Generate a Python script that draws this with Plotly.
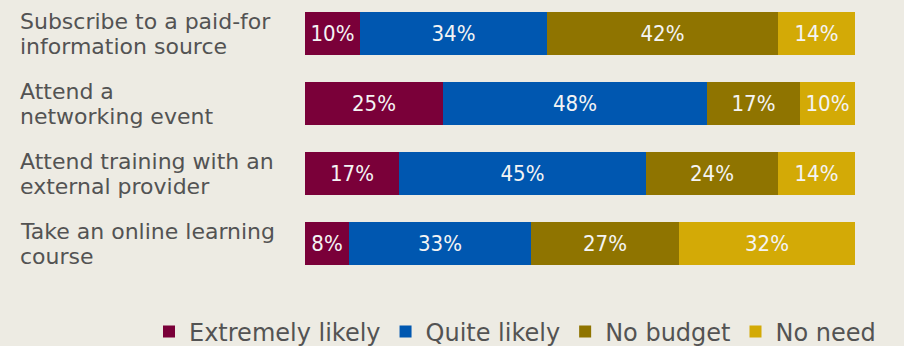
import plotly.graph_objects as go

categories = [["Subscribe to a paid-for", "information source"],
              ["Attend a", "networking event"],
              ["Attend training with an", "external provider"],
              ["Take an online learning", "course"]]
series_names = ["Extremely likely", "Quite likely", "No budget", "No need"]
extremely_likely = [10, 25, 17, 8]
quite_likely = [34, 48, 45, 33]
no_budget = [42, 17, 24, 27]
no_need = [14, 10, 14, 32]
colors = ["#7a0039", "#0057b0", "#8f7400", "#d3aa06"]

W, H = 915, 346
L, R = 305, 60
PH = 280
BG = "#edebe3"

fig = go.Figure()
for name, vals, col in zip(series_names,
                           [extremely_likely, quite_likely, no_budget, no_need],
                           colors):
    fig.add_trace(go.Bar(
        y=list(range(len(categories))), x=vals, name=name, orientation="h",
        marker=dict(color=col, line=dict(width=0)),
        text=[f"{v}%" for v in vals], textposition="inside",
        insidetextanchor="middle", textangle=0, constraintext="none",
        textfont=dict(family="DejaVu Sans Condensed", size=22, color="#f4f4f4"),
        width=0.62, hoverinfo="skip"))

pw = W - L - R
for i, lines in enumerate(categories):
    for j, line in enumerate(lines):
        fig.add_annotation(text=line, xref="paper", yref="y", x=(18 - L) / pw, y=i,
                           yshift=12.5 - 25 * j,
                           xanchor="left", yanchor="middle", align="left", showarrow=False,
                           font=dict(family="DejaVu Sans", size=22, color="#535353"))

fig.add_shape(type="rect", xref="paper", yref="paper",
              x0=(904 - L) / pw, x1=(W + 20 - L) / pw, y0=-1, y1=2,
              fillcolor="white", line=dict(width=0), layer="below")

fig.update_layout(
    width=W, height=H, barmode="stack", bargap=0,
    margin=dict(l=L, r=R, t=0, b=H - PH, pad=0, autoexpand=False),
    paper_bgcolor=BG, plot_bgcolor=BG,
    xaxis=dict(range=[0, 100], visible=False, fixedrange=True),
    yaxis=dict(range=[3.521, -0.479], visible=False, fixedrange=True),
    legend=dict(orientation="h", xanchor="left", x=(149 - L) / pw,
                yanchor="middle", y=(PH - 332) / PH,
                font=dict(family="DejaVu Sans", size=24, color="#535353"),
                bgcolor="rgba(0,0,0,0)", traceorder="normal", itemwidth=30),
    showlegend=True,
)

fig.write_html("out.html")
